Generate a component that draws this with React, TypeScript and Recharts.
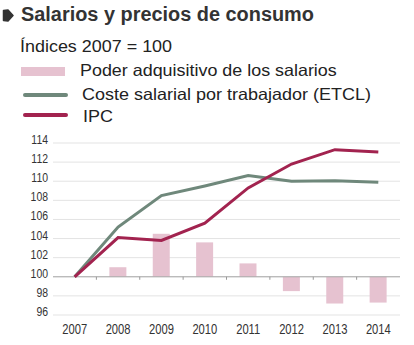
import React from "react";
import { ComposedChart, Bar, Line, XAxis, YAxis, CartesianGrid, ReferenceLine } from "recharts";

const years = ["2007", "2008", "2009", "2010", "2011", "2012", "2013", "2014"];
const poderAdquisitivo = [100, 101.0, 104.5, 103.6, 101.4, 98.5, 97.2, 97.3];
const costeSalarial = [100, 105.2, 108.5, 109.5, 110.6, 110.0, 110.05, 109.9];
const ipc = [100, 104.1, 103.8, 105.6, 109.3, 111.8, 113.3, 113.05];
const yTicks = [96, 98, 100, 102, 104, 106, 108, 110, 112, 114];
const baseValue = 100;

const data = years.map((y, i) => ({
  year: y,
  poder: poderAdquisitivo[i] === baseValue ? null : [baseValue, poderAdquisitivo[i]],
  coste: costeSalarial[i],
  ipc: ipc[i],
}));

const FONT = "'Liberation Sans', Arial, sans-serif";
const PINK = "#e6c2d0";
const GREEN = "#6f887b";
const RED = "#a2234f";

const BaseLineShape = (props: any) => {
  const { x1, x2, y1 } = props;
  if (x1 == null || x2 == null || y1 == null) return null;
  const n = years.length;
  const step = (x2 - x1) / n;
  const ticks = [];
  for (let i = 1; i < n; i++) {
    const x = x1 + i * step;
    ticks.push(<line key={i} x1={x} x2={x} y1={y1} y2={y1 + 3} stroke="#999" strokeWidth={1} />);
  }
  return (
    <g>
      <line x1={x1} x2={x2} y1={y1} y2={y1} stroke="#aaa" strokeWidth={1} />
      {ticks}
    </g>
  );
};

const XTick = (props: any) => {
  const { x, y, payload } = props;
  return (
    <g transform={`translate(${x},${y})`}>
      <text x={0} y={0} dy={19} textAnchor="middle" fontSize={14} fill="#333" fontFamily={FONT} transform="scale(0.8,1)">
        {payload.value}
      </text>
    </g>
  );
};

const YTick = (props: any) => {
  const { x, y, payload } = props;
  return (
    <g transform={`translate(${x},${y})`}>
      <text x={0} y={0} dy={1} textAnchor="end" fontSize={12} fill="#333" fontFamily={FONT} transform="scale(0.87,1)">
        {payload.value}
      </text>
    </g>
  );
};

export default function App() {
  return (
    <div style={{ position: "absolute", left: 0, top: 0, width: 414, height: 345, background: "#fff", fontFamily: FONT, color: "#333", overflow: "hidden" }}>
      <svg style={{ position: "absolute", left: 2, top: 9 }} width={12} height={13}>
        <path d="M1.5 1.5 L6 1 L11 6.5 L6 12 L1.5 11.5 Z" fill="#333" stroke="#333" strokeWidth={1.5} strokeLinejoin="round" />
      </svg>
      <div style={{ position: "absolute", left: 21, top: 5, fontSize: 19.5, lineHeight: "19.5px", fontWeight: "bold", whiteSpace: "nowrap", color: "#333", transform: "scaleX(1.02)", transformOrigin: "left" }}>
        Salarios y precios de consumo
      </div>
      <div style={{ position: "absolute", left: 20, top: 37.5, fontSize: 17, lineHeight: "17px", whiteSpace: "nowrap", color: "#222", transform: "scaleX(1.055)", transformOrigin: "left" }}>
        Índices 2007 = 100
      </div>
      <div style={{ position: "absolute", left: 21, top: 67, width: 44, height: 9, background: PINK }} />
      <div style={{ position: "absolute", left: 80, top: 62, fontSize: 16.5, lineHeight: "16.5px", whiteSpace: "nowrap", color: "#222", transform: "scaleX(1.085)", transformOrigin: "left" }}>
        Poder adquisitivo de los salarios
      </div>
      <div style={{ position: "absolute", left: 23, top: 92.5, width: 45, height: 4, borderRadius: 2, background: GREEN }} />
      <div style={{ position: "absolute", left: 82, top: 85.5, fontSize: 16.5, lineHeight: "16.5px", whiteSpace: "nowrap", color: "#222", transform: "scaleX(1.09)", transformOrigin: "left" }}>
        Coste salarial por trabajador (ETCL)
      </div>
      <div style={{ position: "absolute", left: 23, top: 112.5, width: 45, height: 4, borderRadius: 2, background: RED }} />
      <div style={{ position: "absolute", left: 83, top: 107.5, fontSize: 16.5, lineHeight: "16.5px", whiteSpace: "nowrap", color: "#222", transform: "scaleX(1.09)", transformOrigin: "left" }}>
        IPC
      </div>
      <div style={{ position: "absolute", left: 0, top: 0 }}>
        <ComposedChart width={414} height={345} data={data} margin={{ top: 143, right: 14, left: 0, bottom: 0 }}>
          <CartesianGrid horizontal={true} vertical={false} stroke="#e3e3e3" strokeWidth={1} />
          <XAxis
            dataKey="year"
            axisLine={false}
            tickLine={false}
            tickSize={0}
            height={30}
            tickMargin={0}
            interval={0}
            tick={<XTick />}
          />
          <YAxis
            domain={[96, 114]}
            ticks={yTicks}
            width={53}
            axisLine={false}
            tickLine={false}
            tickSize={0}
            tickMargin={5}
            interval={0}
            tick={<YTick />}
          />
          <ReferenceLine y={baseValue} shape={BaseLineShape} />
          <Bar dataKey="poder" fill={PINK} barSize={17} isAnimationActive={false} />
          <Line type="linear" dataKey="coste" stroke={GREEN} strokeWidth={3} dot={false} activeDot={false} isAnimationActive={false} />
          <Line type="linear" dataKey="ipc" stroke={RED} strokeWidth={3} dot={false} activeDot={false} isAnimationActive={false} />
        </ComposedChart>
      </div>
    </div>
  );
}
